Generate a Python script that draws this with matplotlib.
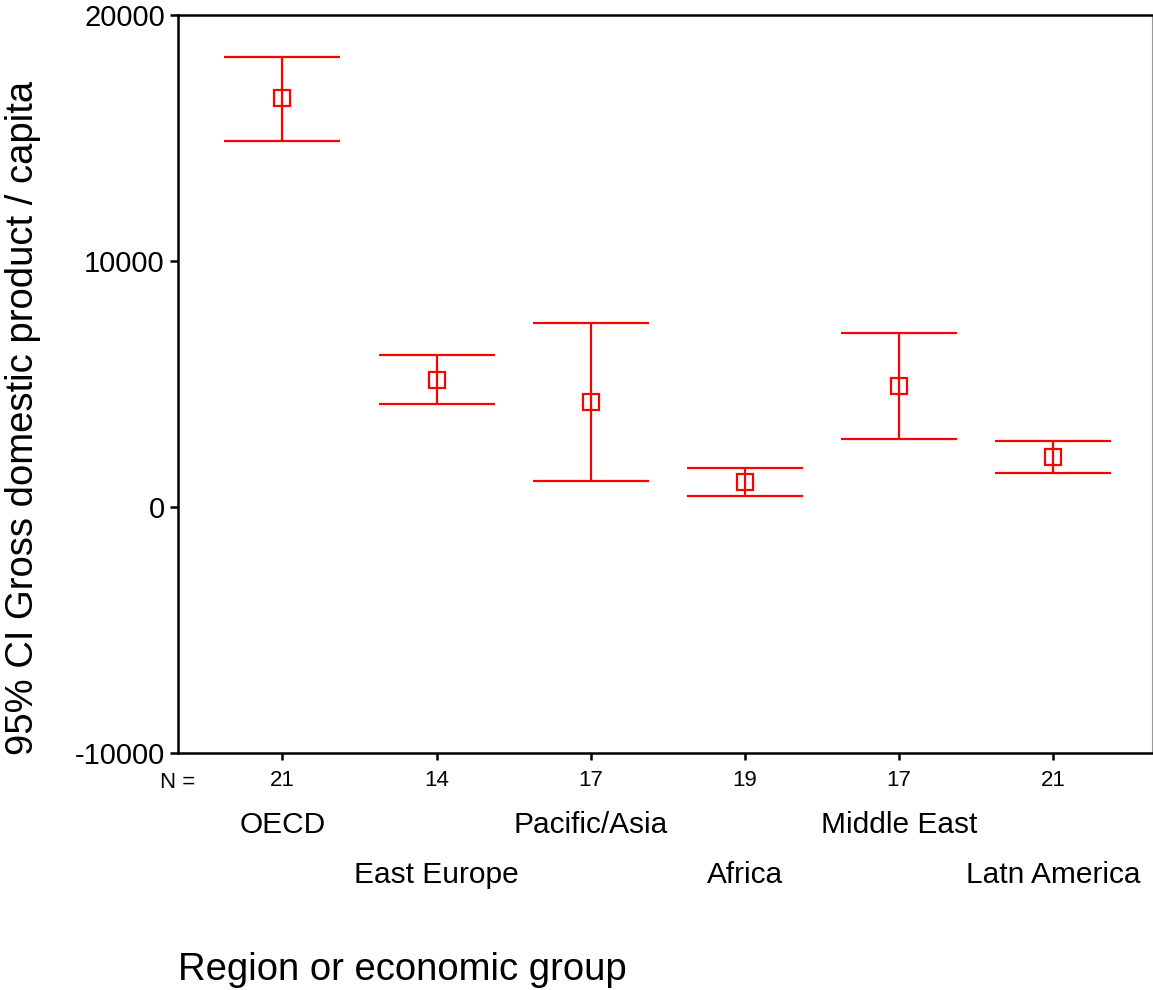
import numpy as np
import matplotlib
matplotlib.use("Agg")
import matplotlib.pyplot as plt
from matplotlib.transforms import blended_transform_factory

plt.rcParams["font.family"] = ["Liberation Sans", "DejaVu Sans"]

# ── data ────────────────────────────────────────────────────────────────
regions = ["OECD", "East Europe", "Pacific/Asia", "Africa", "Middle East", "Latn America"]
n_cases = [21, 14, 17, 19, 17, 21]
means   = [16630, 5160, 4270, 1030, 4920, 2020]
ci_low  = [14880, 4175, 1057, 447, 2777, 1370]
ci_high = [18290, 6180, 7470, 1573, 7085, 2670]
yticks  = [-10000, 0, 10000, 20000]

RED = "#FF0000"
W, H = 1153, 990

fig = plt.figure(figsize=(W / 100, H / 100), dpi=100)
fig.patch.set_facecolor("white")
ax = fig.add_axes([178 / W, 1 - 753 / H, 974 / W, 738 / H])

x = np.arange(1, len(regions) + 1)
means_a = np.array(means)
yerr = np.vstack([means_a - np.array(ci_low), np.array(ci_high) - means_a])

ax.errorbar(x, means_a, yerr=yerr, fmt="s", color=RED, ecolor=RED,
            elinewidth=1.6, capsize=42, capthick=1.6,
            markersize=11, markerfacecolor="none", markeredgecolor=RED,
            markeredgewidth=1.6)

ax.set_xlim(0.3236, 6.640)
ax.set_ylim(-10000, 20000)
ax.set_yticks(yticks)
ax.set_yticklabels([str(v) for v in yticks])
ax.set_xticks(x)
ax.set_xticklabels([str(n) for n in n_cases])

ax.tick_params(axis="y", direction="out", length=6, width=1.8, pad=3.5,
               labelsize=21)
ax.tick_params(axis="x", direction="out", length=5, width=1.8, pad=7.5,
               labelsize=16)

for side in ("left", "top", "bottom"):
    ax.spines[side].set_linewidth(1.8)
    ax.spines[side].set_color("black")
ax.spines["right"].set_linewidth(0.8)
ax.spines["right"].set_color("#999999")

# staggered category labels below the N row
trans = blended_transform_factory(ax.transData, fig.transFigure)
for i, name in enumerate(regions):
    ybase = 833 if i % 2 == 0 else 883
    ax.text(x[i], 1 - ybase / H, name, transform=trans, ha="center",
            va="baseline", fontsize=21.5, clip_on=False)

fig.text(177.5 / W, 1 - 788 / H, "N =", ha="center", va="baseline",
         fontsize=16)

fig.text(178 / W, 1 - 980 / H, "Region or economic group", ha="left",
         va="baseline", fontsize=27.5)
fig.text(33 / W, 1 - 418 / H, "95% CI Gross domestic product / capita",
         rotation=90, rotation_mode="anchor", ha="center", va="baseline",
         fontsize=27.5)

fig.savefig("out.png", dpi=100, facecolor="white")
